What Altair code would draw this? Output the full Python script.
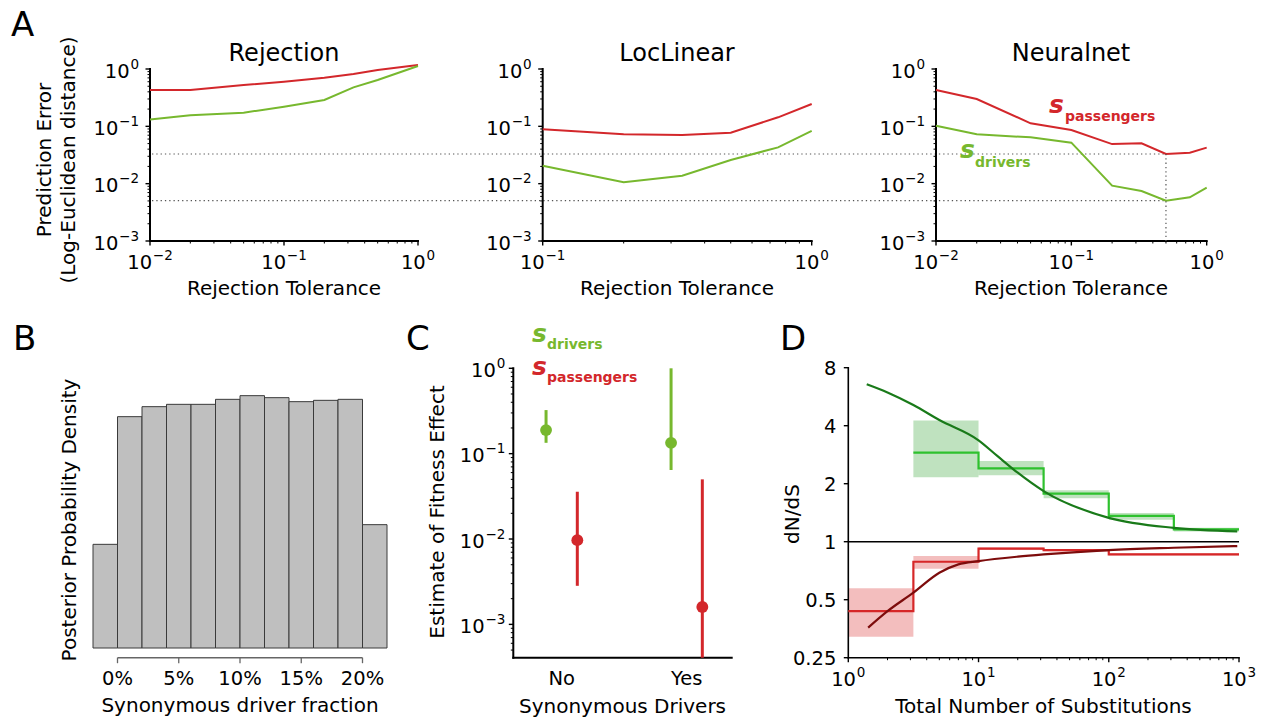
import altair as alt
import pandas as pd

FONT = "DejaVu Sans"
RED = "#d3272b"
GREEN = "#77b82e"
D_GREEN_STEP = "#2ec12e"
D_GREEN_CURVE = "#197a19"
D_GREEN_BAND = "#2ca02c"
D_RED_STEP = "#d62728"
D_RED_CURVE = "#7d0c0c"
D_RED_BAND = "#d62728"

# ---------------- Panel A data ----------------
rej_tol = [0.01, 0.02, 0.05, 0.1, 0.2, 0.33, 0.5, 1.0]
rej_pass = [0.43, 0.43, 0.526, 0.60, 0.706, 0.818, 0.96, 1.17]
rej_driv = [0.132, 0.156, 0.173, 0.22, 0.288, 0.479, 0.643, 1.13]

loc_tol = [0.1, 0.2, 0.33, 0.5, 0.75, 1.0]
loc_pass = [0.0887, 0.0725, 0.0706, 0.0776, 0.1436, 0.245]
loc_driv = [0.0206, 0.01055, 0.0138, 0.0259, 0.043, 0.083]

nn_tol = [0.01, 0.02, 0.05, 0.1, 0.2, 0.33, 0.5, 0.75, 1.0]
nn_pass = [0.43, 0.30, 0.113, 0.0863, 0.049, 0.0505, 0.0329, 0.0347, 0.0425]
nn_driv = [0.1027, 0.0725, 0.0643, 0.0519, 0.00923, 0.00745, 0.00505, 0.00578, 0.0085]

ref_pass = 0.0329
ref_driv = 0.00505
best_tol = 0.5

# ---------------- Panel B data ----------------
b_edges = [-2, 0, 2, 4, 6, 8, 10, 12, 14, 16, 18, 20, 22]
b_density = [3.11, 6.94, 7.24, 7.31, 7.31, 7.46, 7.57, 7.51, 7.39, 7.43, 7.46, 3.70]
b_ticks = [0, 5, 10, 15, 20]
b_tick_labels = ["0%", "5%", "10%", "15%", "20%"]

# ---------------- Panel C data ----------------
c_cats = ["No", "Yes"]
c_drv_est = [0.189, 0.134]
c_drv_lo = [0.134, 0.0643]
c_drv_hi = [0.324, 1.0]
c_pas_est = [0.0097, 0.0016]
c_pas_lo = [0.00283, 0.000407]
c_pas_hi = [0.0358, 0.05]

# ---------------- Panel D data ----------------
g_lo_edge = [3.16, 10, 31.6, 100, 316]
g_hi_edge = [10, 31.6, 100, 316, 1000]
g_mid = [2.90, 2.40, 1.775, 1.36, 1.16]
g_low = [2.16, 2.21, 1.68, 1.30, 1.13]
g_high = [4.26, 2.62, 1.85, 1.41, 1.18]

r_lo_edge = [1, 3.16, 10, 31.6, 100, 316]
r_hi_edge = [3.16, 10, 31.6, 100, 316, 1000]
r_mid = [0.436, 0.787, 0.92, 0.905, 0.859, 0.859]
r_low = [0.321, 0.724, 0.905, 0.893, 0.848, 0.848]
r_high = [0.573, 0.842, 0.935, 0.917, 0.870, 0.870]

gc_x = [1.385, 2, 3.16, 5, 10, 14, 20, 31.6, 100, 316, 970]
gc_y = [6.56, 5.95, 5.12, 4.28, 3.36, 2.78, 2.28, 1.83, 1.33, 1.18, 1.13]
rc_x = [1.42, 2, 3.16, 5, 7, 10, 20, 31.6, 100, 316, 970]
rc_y = [0.358, 0.436, 0.544, 0.69, 0.763, 0.793, 0.836, 0.859, 0.905, 0.93, 0.949]

d_yticks = [0.25, 0.5, 1, 2, 4, 8]
d_ytick_labels = ["0.25", "0.5", "1", "2", "4", "8"]

# ---------------- helpers ----------------
BASE_SIZE = 19.5
EXP_SIZE = 13.5
DIGIT_EM = 0.636
MINUS_EM = 0.838
BASE_W = 2 * DIGIT_EM * BASE_SIZE  # width of "10"


def exp_str(e):
    return ("−" if e < 0 else "") + str(abs(e))


def exp_width(s):
    return sum(MINUS_EM if ch == "−" else DIGIT_EM for ch in s) * EXP_SIZE


def log_majors(lo_exp, hi_exp):
    return [10.0 ** e for e in range(lo_exp, hi_exp + 1)], list(range(lo_exp, hi_exp + 1))


def log_minors(lo_exp, hi_exp, lo_val=None):
    vals = []
    for e in range(lo_exp, hi_exp):
        for k in range(2, 10):
            v = round(k * 10.0 ** e, 12)
            if lo_val is None or v >= lo_val:
                vals.append(v)
    return vals


def xticks(xs, vals, y0, length, width=1.2, color="black"):
    return alt.Chart(pd.DataFrame({"v": vals})).mark_rule(
        color=color, strokeWidth=width).encode(
        x=alt.X("v:Q", scale=xs, axis=None), y=alt.value(y0), y2=alt.value(y0 + length))


def yticks(ys, vals, x0, length, width=1.2, color="black"):
    return alt.Chart(pd.DataFrame({"v": vals})).mark_rule(
        color=color, strokeWidth=width).encode(
        y=alt.Y("v:Q", scale=ys, axis=None), x=alt.value(x0), x2=alt.value(x0 - length))


def xlabels(xs, vals, labels, y_base, size=BASE_SIZE):
    return alt.Chart(pd.DataFrame({"v": vals, "t": labels})).mark_text(
        align="center", baseline="alphabetic", font=FONT, fontSize=size, color="black").encode(
        x=alt.X("v:Q", scale=xs, axis=None), y=alt.value(y_base), text="t:N")


def ylabels(ys, vals, labels, x_right, dy=8, size=BASE_SIZE):
    return alt.Chart(pd.DataFrame({"v": vals, "t": labels})).mark_text(
        align="right", baseline="alphabetic", font=FONT, fontSize=size, color="black",
        dy=dy).encode(
        y=alt.Y("v:Q", scale=ys, axis=None), x=alt.value(x_right), text="t:N")


def pow_xlabels(xs, vals, exps, y_base, raise_px=9):
    """'10' with a raised exponent, centred under each tick."""
    out = []
    groups = {}
    for v, e in zip(vals, exps):
        groups.setdefault(exp_str(e), []).append(v)
    for es, vs in groups.items():
        w = BASE_W + 0.8 + exp_width(es)
        df = pd.DataFrame({"v": vs, "b": ["10"] * len(vs), "e": [es] * len(vs)})
        out.append(alt.Chart(df).mark_text(
            align="right", baseline="alphabetic", font=FONT, fontSize=BASE_SIZE, color="black",
            dx=-w / 2 + BASE_W).encode(
            x=alt.X("v:Q", scale=xs, axis=None), y=alt.value(y_base), text="b:N"))
        out.append(alt.Chart(df).mark_text(
            align="left", baseline="alphabetic", font=FONT, fontSize=EXP_SIZE, color="black",
            dx=-w / 2 + BASE_W + 0.8).encode(
            x=alt.X("v:Q", scale=xs, axis=None), y=alt.value(y_base - raise_px), text="e:N"))
    return out


def pow_ylabels(ys, vals, exps, x_right, dy=8.5, raise_px=9):
    out = []
    groups = {}
    for v, e in zip(vals, exps):
        groups.setdefault(exp_str(e), []).append(v)
    for es, vs in groups.items():
        df = pd.DataFrame({"v": vs, "b": ["10"] * len(vs), "e": [es] * len(vs)})
        out.append(alt.Chart(df).mark_text(
            align="right", baseline="alphabetic", font=FONT, fontSize=BASE_SIZE, color="black",
            dy=dy).encode(
            y=alt.Y("v:Q", scale=ys, axis=None), x=alt.value(x_right - exp_width(es) - 0.8),
            text="b:N"))
        out.append(alt.Chart(df).mark_text(
            align="right", baseline="alphabetic", font=FONT, fontSize=EXP_SIZE, color="black",
            dy=dy - raise_px).encode(
            y=alt.Y("v:Q", scale=ys, axis=None), x=alt.value(x_right), text="e:N"))
    return out


def spine(x0, x1, y0, y1, width=2, color="black"):
    return alt.Chart(pd.DataFrame({"k": [0]})).mark_rule(
        color=color, strokeWidth=width, strokeCap="square").encode(
        x=alt.value(x0), x2=alt.value(x1), y=alt.value(y0), y2=alt.value(y1))


def txt(s, x, y, size, color="black", align="left", weight="normal", style="normal",
        angle=0, baseline="alphabetic"):
    return alt.Chart(pd.DataFrame({"t": [s]})).mark_text(
        align=align, baseline=baseline, font=FONT, fontSize=size, color=color,
        fontWeight=weight, fontStyle=style, angle=angle
    ).encode(x=alt.value(x), y=alt.value(y), text="t:N")


# ---------------- Panel A ----------------
A_TOP, A_BOT = 69, 241
A_Y_SCALE = dict(type="log", domain=[0.001, 1], range=[A_BOT, A_TOP], nice=False)
ay_major, ay_exps = log_majors(-3, 0)
ay_minor = log_minors(-3, 0)


def panel_a(tol, pas, drv, xdomain, xrange, lo_exp):
    df = pd.DataFrame({"tol": tol, "pas": pas, "drv": drv})
    xs = alt.Scale(type="log", domain=xdomain, range=xrange, nice=False)
    ys = alt.Scale(**A_Y_SCALE)
    red = alt.Chart(df).mark_line(color=RED, strokeWidth=2, clip=False).encode(
        x=alt.X("tol:Q", scale=xs, axis=None), y=alt.Y("pas:Q", scale=ys, axis=None))
    green = alt.Chart(df).mark_line(color=GREEN, strokeWidth=2, clip=False).encode(
        x=alt.X("tol:Q", scale=xs, axis=None), y=alt.Y("drv:Q", scale=ys, axis=None))
    xmaj, xexps = log_majors(lo_exp, 0)
    xmin = log_minors(lo_exp, 0)
    parts = [
        spine(xrange[0], xrange[1], A_BOT, A_BOT),
        spine(xrange[0], xrange[0], A_TOP, A_BOT),
        xticks(xs, xmaj, A_BOT, 4.5, 1.4), xticks(xs, xmin, A_BOT, 2.5, 1),
        yticks(ys, ay_major, xrange[0], 4.5, 1.4), yticks(ys, ay_minor, xrange[0], 2.5, 1),
        *pow_xlabels(xs, xmaj, xexps, A_BOT + 28),
        *pow_ylabels(ys, ay_major, ay_exps, xrange[0] - 11),
        red, green,
    ]
    return parts, xs, ys


a1_parts, a1_xs, a1_ys = panel_a(rej_tol, rej_pass, rej_driv, [0.01, 1], [150, 418], -2)
a2_parts, a2_xs, a2_ys = panel_a(loc_tol, loc_pass, loc_driv, [0.1, 1], [542.7, 811.7], -1)
a3_parts, a3_xs, a3_ys = panel_a(nn_tol, nn_pass, nn_driv, [0.01, 1], [936, 1206.7], -2)

ref_h = alt.Chart(pd.DataFrame({"r": [ref_pass, ref_driv]})).mark_rule(
    color="#555555", strokeWidth=1.2, strokeDash=[1.3, 3]).encode(
    y=alt.Y("r:Q", scale=a1_ys, axis=None), x=alt.value(152), x2=alt.value(1164))
A1 = alt.layer(*a1_parts, ref_h)
A2 = alt.layer(*a2_parts)
vert = alt.Chart(pd.DataFrame({"t": [best_tol], "top": [ref_pass], "bot": [0.001]})).mark_rule(
    color="#555555", strokeWidth=1.2, strokeDash=[1.3, 3]).encode(
    x=alt.X("t:Q", scale=a3_xs, axis=None),
    y=alt.Y("top:Q", scale=a3_ys, axis=None), y2="bot:Q")
A3 = alt.layer(*a3_parts, vert)

# ---------------- Panel B ----------------
B_AXIS = 657.7
b_df = pd.DataFrame({"x0": b_edges[:-1], "x1": b_edges[1:], "d": b_density})
b_xs = alt.Scale(domain=[-2, 22], range=[93, 387], nice=False, zero=False)
b_ys = alt.Scale(domain=[0, 8.4], range=[648, 368], nice=False, zero=False)
b_bars = alt.Chart(b_df).mark_rect(fill="#bfbfbf", stroke="#3a3a3a", strokeWidth=1).encode(
    x=alt.X("x0:Q", scale=b_xs, axis=None), x2="x1:Q",
    y=alt.Y("d:Q", scale=b_ys, axis=None), y2=alt.datum(0))
b_spine = alt.Chart(pd.DataFrame({"a": [b_ticks[0]], "b": [b_ticks[-1]]})).mark_rule(
    color="#666666", strokeWidth=1.4).encode(
    x=alt.X("a:Q", scale=b_xs, axis=None), x2="b:Q", y=alt.value(B_AXIS))
B = alt.layer(b_bars, b_spine,
              xticks(b_xs, b_ticks, B_AXIS, 5.5, 1.3, "#666666"),
              xlabels(b_xs, b_ticks, b_tick_labels, B_AXIS + 27.5))

# ---------------- Panel C ----------------
C_AXIS = 657.7
C_LEFT = 513.3
series_off = {"drivers": -0.125, "passengers": 0.125}
rows = []
for i, c in enumerate(c_cats):
    rows.append({"cat": c, "s": "drivers", "pos": i + series_off["drivers"],
                 "est": c_drv_est[i], "lo": c_drv_lo[i], "hi": c_drv_hi[i]})
    rows.append({"cat": c, "s": "passengers", "pos": i + series_off["passengers"],
                 "est": c_pas_est[i], "lo": c_pas_lo[i], "hi": c_pas_hi[i]})
c_df = pd.DataFrame(rows)
c_xs = alt.Scale(domain=[-0.387, 1.36], range=[C_LEFT, 731.7], nice=False, zero=False)
c_ys = alt.Scale(type="log", domain=[0.000407, 1], range=[C_AXIS, 368.3], nice=False)
c_color = alt.Color("s:N", scale=alt.Scale(domain=["drivers", "passengers"], range=[GREEN, RED]),
                    legend=None)
c_err = alt.Chart(c_df).mark_rule(strokeWidth=3).encode(
    x=alt.X("pos:Q", scale=c_xs, axis=None),
    y=alt.Y("lo:Q", scale=c_ys, axis=None), y2="hi:Q", color=c_color)
c_pts = alt.Chart(c_df).mark_circle(size=140, opacity=1).encode(
    x=alt.X("pos:Q", scale=c_xs, axis=None),
    y=alt.Y("est:Q", scale=c_ys, axis=None), color=c_color)
cy_major, cy_exps = log_majors(-3, 0)
cy_minor = log_minors(-4, 0, lo_val=0.000407)
C = alt.layer(
    spine(C_LEFT, 731.7, C_AXIS, C_AXIS), spine(C_LEFT, C_LEFT, 368.3, C_AXIS),
    yticks(c_ys, cy_major, C_LEFT, 4.5, 1.4), yticks(c_ys, cy_minor, C_LEFT, 2.5, 1),
    *pow_ylabels(c_ys, cy_major, cy_exps, C_LEFT - 8),
    xlabels(c_xs, list(range(len(c_cats))), c_cats, C_AXIS + 27.5),
    c_err, c_pts)

# ---------------- Panel D ----------------
D_AXIS = 657.7
D_LEFT = 848.3
d_xs = alt.Scale(type="log", domain=[1, 1000], range=[D_LEFT, 1239], nice=False)
d_ys = alt.Scale(type="log", base=2, domain=[0.25, 8], range=[D_AXIS, 367.7], nice=False)
g_band_df = pd.DataFrame({"x0": g_lo_edge, "x1": g_hi_edge, "lo": g_low, "hi": g_high})
r_band_df = pd.DataFrame({"x0": r_lo_edge, "x1": r_hi_edge, "lo": r_low, "hi": r_high})
g_step_df = pd.DataFrame({"x": g_lo_edge + [g_hi_edge[-1]], "y": g_mid + [g_mid[-1]]})
r_step_df = pd.DataFrame({"x": r_lo_edge + [r_hi_edge[-1]], "y": r_mid + [r_mid[-1]]})
gc_df = pd.DataFrame({"x": gc_x, "y": gc_y})
rc_df = pd.DataFrame({"x": rc_x, "y": rc_y})


def d_enc(chart, xf, yf, x2=None, y2=None):
    enc = dict(x=alt.X(xf, scale=d_xs, axis=None), y=alt.Y(yf, scale=d_ys, axis=None))
    if x2:
        enc["x2"] = x2
    if y2:
        enc["y2"] = y2
    return chart.encode(**enc)


g_band = d_enc(alt.Chart(g_band_df).mark_rect(color=D_GREEN_BAND, opacity=0.3),
               "x0:Q", "lo:Q", "x1:Q", "hi:Q")
r_band = d_enc(alt.Chart(r_band_df).mark_rect(color=D_RED_BAND, opacity=0.3),
               "x0:Q", "lo:Q", "x1:Q", "hi:Q")
one_line = d_enc(alt.Chart(pd.DataFrame({"a": [1], "b": [1000], "y": [1]})).mark_rule(
    color="black", strokeWidth=1.6), "a:Q", "y:Q", "b:Q")
g_step = d_enc(alt.Chart(g_step_df).mark_line(color=D_GREEN_STEP, strokeWidth=2.2,
                                              interpolate="step-after"), "x:Q", "y:Q")
r_step = d_enc(alt.Chart(r_step_df).mark_line(color=D_RED_STEP, strokeWidth=2.2,
                                              interpolate="step-after"), "x:Q", "y:Q")
g_curve = d_enc(alt.Chart(gc_df).mark_line(color=D_GREEN_CURVE, strokeWidth=2.2,
                                           interpolate="monotone"), "x:Q", "y:Q")
r_curve = d_enc(alt.Chart(rc_df).mark_line(color=D_RED_CURVE, strokeWidth=2.2,
                                           interpolate="monotone"), "x:Q", "y:Q")
dx_major, dx_exps = log_majors(0, 3)
dx_minor = log_minors(0, 3)
D = alt.layer(
    g_band, r_band,
    spine(D_LEFT, 1239, D_AXIS, D_AXIS, 1.6), spine(D_LEFT, D_LEFT, 367.7, D_AXIS, 1.6),
    xticks(d_xs, dx_major, D_AXIS, 4.5, 1.4), xticks(d_xs, dx_minor, D_AXIS, 2.5, 1),
    yticks(d_ys, d_yticks, D_LEFT, 4.5, 1.4),
    *pow_xlabels(d_xs, dx_major, dx_exps, D_AXIS + 28),
    ylabels(d_ys, d_yticks, d_ytick_labels, D_LEFT - 12, dy=7),
    one_line, g_step, r_step, g_curve, r_curve)

# ---------------- Texts ----------------
texts = [
    txt("A", 11, 36, 34), txt("B", 13, 350, 34), txt("C", 406, 350, 34), txt("D", 780, 350, 34),
    txt("Rejection", 284, 61, 24, align="center"),
    txt("LocLinear", 677, 61, 24, align="center"),
    txt("Neuralnet", 1071, 61, 24, align="center"),
    txt("Rejection Tolerance", 284, 295, 20, align="center"),
    txt("Rejection Tolerance", 677, 295, 20, align="center"),
    txt("Rejection Tolerance", 1071, 295, 20, align="center"),
    txt("Prediction Error", 45, 160, 20, align="center", angle=270, baseline="middle"),
    txt("(Log-Euclidean distance)", 69, 160, 20, align="center", angle=270, baseline="middle"),
    txt("Synonymous driver fraction", 240, 711.5, 20, align="center"),
    txt("Posterior Probability Density", 70, 520, 20, align="center", angle=270,
        baseline="middle"),
    txt("Synonymous Drivers", 622.5, 713, 20, align="center"),
    txt("Estimate of Fitness Effect", 438, 512, 20, align="center", angle=270,
        baseline="middle"),
    txt("Total Number of Substitutions", 1043.5, 713, 20, align="center"),
    txt("dN/dS", 793, 514, 20, align="center", angle=270, baseline="middle"),
    txt("s", 1049, 113, 25, color=RED, weight="bold", style="italic"),
    txt("passengers", 1065, 120.5, 14, color=RED, weight="bold"),
    txt("s", 960, 158, 25, color=GREEN, weight="bold", style="italic"),
    txt("drivers", 975, 166.5, 14, color=GREEN, weight="bold"),
    txt("s", 532, 341.5, 25, color=GREEN, weight="bold", style="italic"),
    txt("drivers", 547, 348.5, 14, color=GREEN, weight="bold"),
    txt("s", 532, 375, 25, color=RED, weight="bold", style="italic"),
    txt("passengers", 547, 382, 14, color=RED, weight="bold"),
]

chart = alt.layer(A1, A2, A3, B, C, D, *texts).resolve_scale(
    x="independent", y="independent").properties(
    width=1266, height=719, autosize=alt.AutoSizeParams(type="none"), padding=0
).configure_view(stroke=None)

chart.save("out.html", embed_options={"renderer": "svg", "actions": False})
